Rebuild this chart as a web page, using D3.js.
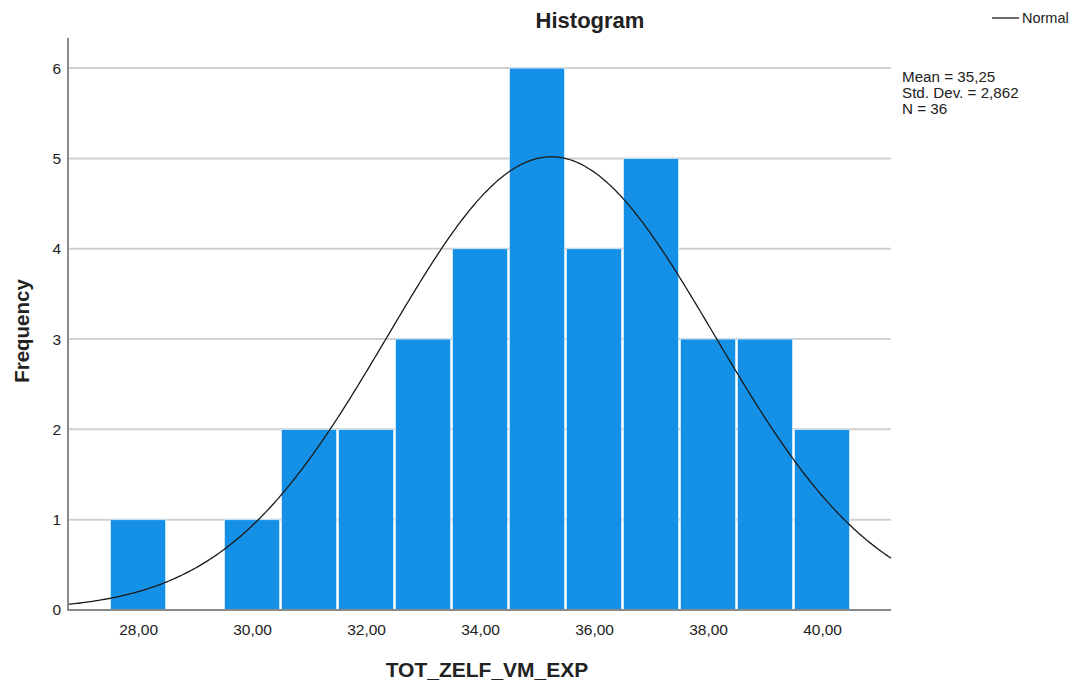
<!DOCTYPE html>
<html lang="en">
<head>
<meta charset="utf-8">
<title>Histogram</title>
<script src="https://d3js.org/d3.v7.min.js"></script>
<style>
  body { margin: 0; background: #fff; }
  text { font-family: "Liberation Sans", Arial, sans-serif; fill: #222; }
</style>
</head>
<body>
<div id="chart"></div>
<script>
// bin centres and counts
var binCenters = [28, 29, 30, 31, 32, 33, 34, 35, 36, 37, 38, 39, 40];
var binCounts  = [1, 0, 1, 2, 2, 3, 4, 6, 4, 5, 3, 3, 2];
var xTicks = [28, 30, 32, 34, 36, 38, 40];
var yTicks = [0, 1, 2, 3, 4, 5, 6];
var statLines = ["Mean = 35,25", "Std. Dev. = 2,862", "N = 36"];
var mean = 35.25, sd = 2.862, n = 36, binWidth = 1;

var W = 1074, H = 686;
var plotLeft = 68, plotRight = 891, plotTop = 41, plotBottom = 610;

var svg = d3.select("#chart").append("svg")
  .attr("width", W).attr("height", H);

var x = d3.scaleLinear().domain([26.77, 41.21]).range([plotLeft, plotRight]);
var y = d3.scaleLinear().domain([0, 6.3]).range([plotBottom, plotTop]);

// gridlines
svg.append("g").selectAll("line")
  .data(yTicks.filter(function(d){ return d > 0; }))
  .join("line")
  .attr("x1", plotLeft).attr("x2", plotRight)
  .attr("y1", function(d){ return y(d); })
  .attr("y2", function(d){ return y(d); })
  .attr("stroke", "#d0d0d0").attr("stroke-width", 2);

// bars
svg.append("g").selectAll("rect")
  .data(binCenters.map(function(c, i){ return {c: c, n: binCounts[i]}; }).filter(function(d){ return d.n > 0; }))
  .join("rect")
  .attr("x", function(d){ return x(d.c - binWidth/2) + 1; })
  .attr("width", function(d){ return x(d.c + binWidth/2) - x(d.c - binWidth/2) - 2; })
  .attr("y", function(d){ return y(d.n); })
  .attr("height", function(d){ return y(0) - y(d.n); })
  .attr("fill", "#1490e6")
  .attr("stroke", "#d8ecfa").attr("stroke-width", 0.8);

// normal curve (from mean, sd, n)
var xs = d3.range(0, 401).map(function(i){ return 26.77 + (41.21 - 26.77) * i / 400; });
var curve = xs.map(function(v){
  var z = (v - mean) / sd;
  return [v, n * binWidth * Math.exp(-0.5 * z * z) / (sd * Math.sqrt(2 * Math.PI))];
});
svg.append("path")
  .datum(curve)
  .attr("fill", "none").attr("stroke", "#1a1a1a").attr("stroke-width", 1.3)
  .attr("d", d3.line().x(function(d){ return x(d[0]); }).y(function(d){ return y(d[1]); }));

// axes
var xAxis = svg.append("g")
  .attr("transform", "translate(0," + plotBottom + ")")
  .call(d3.axisBottom(x).tickValues(xTicks).tickSize(0).tickPadding(14)
    .tickFormat(function(d){ return d3.format(".2f")(d).replace(".", ","); }));
xAxis.select(".domain").remove();
xAxis.selectAll("text").style("font-size", "15.5px").attr("fill", "#222")
  .style("font-family", "Liberation Sans, Arial, sans-serif");

var yAxis = svg.append("g")
  .attr("transform", "translate(" + plotLeft + ",0)")
  .call(d3.axisLeft(y).tickValues(yTicks).tickSize(0).tickPadding(7).tickFormat(d3.format("d")));
yAxis.select(".domain").remove();
yAxis.selectAll("text").style("font-size", "15.5px").attr("fill", "#222")
  .style("font-family", "Liberation Sans, Arial, sans-serif");

svg.append("line").attr("x1", plotLeft).attr("x2", plotLeft).attr("y1", plotTop - 3).attr("y2", plotBottom + 1)
  .attr("stroke", "#8a8a8a").attr("stroke-width", 2);
svg.append("line").attr("x1", plotLeft).attr("x2", plotRight).attr("y1", plotBottom).attr("y2", plotBottom)
  .attr("stroke", "#8a8a8a").attr("stroke-width", 2);

// titles
svg.append("text").attr("x", 590).attr("y", 28).attr("text-anchor", "middle")
  .style("font-size", "22px").style("font-weight", "bold").text("Histogram");
svg.append("text").attr("x", 487).attr("y", 677).attr("text-anchor", "middle")
  .style("font-size", "21px").style("font-weight", "bold").text("TOT_ZELF_VM_EXP");
svg.append("text").attr("transform", "translate(29,331) rotate(-90)").attr("text-anchor", "middle")
  .style("font-size", "20.5px").style("font-weight", "bold").text("Frequency");

// legend
svg.append("line").attr("x1", 992).attr("x2", 1019).attr("y1", 18).attr("y2", 18)
  .attr("stroke", "#1a1a1a").attr("stroke-width", 1.3);
svg.append("text").attr("x", 1022).attr("y", 23).style("font-size", "14.5px").text("Normal");

// stats
svg.append("g").selectAll("text")
  .data(statLines).join("text")
  .attr("x", 902).attr("y", function(d, i){ return 82 + i * 16; })
  .style("font-size", "15.2px").text(function(d){ return d; });
</script>
</body>
</html>
